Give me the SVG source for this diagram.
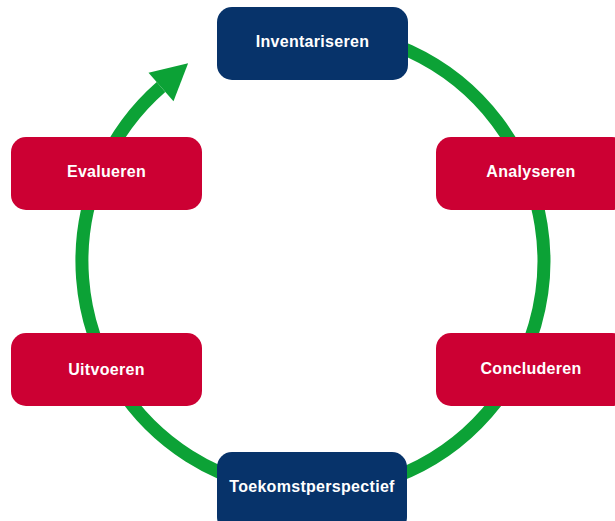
<svg xmlns="http://www.w3.org/2000/svg" width="615" height="521" viewBox="0 0 615 521">
  <style>
    .navy { fill: #07336a; }
    .red { fill: #cc0033; }
    .lbl { font-family: "Liberation Sans", Arial, sans-serif; font-weight: bold; font-size: 16px; fill: #ffffff; text-anchor: middle; letter-spacing: 0.3px; }
    .ring { fill: none; stroke: #0ca236; stroke-width: 13; }
  </style>
  <defs>
    <marker id="arrow" markerUnits="userSpaceOnUse" markerWidth="40" markerHeight="40" refX="0" refY="20" orient="auto" overflow="visible">
      <path d="M0,1 L36,20 L0,39 Z" fill="#0ca236"/>
    </marker>
  </defs>
  <rect width="615" height="521" fill="#ffffff"/>
  <g id="connectors">
    <path class="ring" d="M311.5,30 A231,231 0 1 1 161,87" marker-end="url(#arrow)"/>
  </g>
  <g id="inventariseren">
    <rect class="navy" x="217" y="7" width="191" height="73" rx="15"/>
    <text class="lbl" x="312.5" y="47">Inventariseren</text>
  </g>
  <g id="analyseren">
    <rect class="red" x="436" y="137" width="191" height="73" rx="15"/>
    <text class="lbl" x="531" y="177">Analyseren</text>
  </g>
  <g id="concluderen">
    <rect class="red" x="436" y="333" width="191" height="73" rx="15"/>
    <text class="lbl" x="531" y="374">Concluderen</text>
  </g>
  <g id="toekomstperspectief">
    <rect class="navy" x="217" y="452" width="190" height="80" rx="15"/>
    <text class="lbl" x="312" y="492">Toekomstperspectief</text>
  </g>
  <g id="uitvoeren">
    <rect class="red" x="11" y="333" width="191" height="73" rx="15"/>
    <text class="lbl" x="106.5" y="375">Uitvoeren</text>
  </g>
  <g id="evalueren">
    <rect class="red" x="11" y="137" width="191" height="73" rx="15"/>
    <text class="lbl" x="106.5" y="177">Evalueren</text>
  </g>
</svg>
